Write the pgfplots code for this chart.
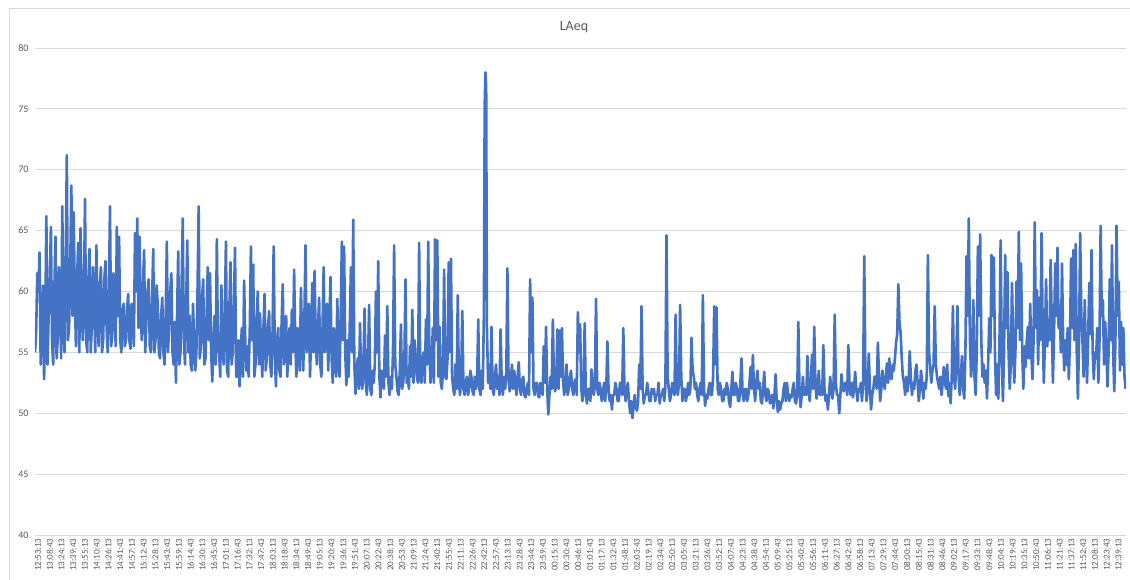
\documentclass[border=0pt]{standalone}
\usepackage{fontspec}
\setmainfont{Carlito}
\usepackage{pgfplots}
\pgfplotsset{compat=1.18}
\definecolor{exblue}{RGB}{68,114,196}
\definecolor{exgrid}{RGB}{217,217,217}
\definecolor{extext}{RGB}{89,89,89}
\pgfplotstableread{
x y
0 55.0
1.5 56.5
3 61.5
4.5 60.0
6 63.2
7.5 54.0
9 56.5
10.5 60.5
12 52.8
13.5 57.0
15 66.2
16.5 54.0
18 58.0
19.5 61.0
21 65.3
22.5 56.0
24 54.0
25.5 60.0
27 64.5
28.5 54.5
30 56.0
31.5 62.0
33 60.5
34.5 54.5
36 67.0
37.5 58.0
39 55.0
40.5 62.0
42 71.2
43.5 56.0
45 57.0
46.5 62.0
48 68.7
49.5 58.0
51 66.5
52.5 60.0
54 55.5
55.5 61.0
57 64.0
58.5 55.0
60 65.2
61.5 60.0
63 56.0
64.5 59.0
66 67.6
67.5 56.0
69 55.0
70.5 61.0
72 63.5
73.5 55.0
75 57.0
76.5 62.0
78 60.0
79.5 55.0
81 63.8
82.5 58.0
84 55.5
85.5 60.5
87 62.0
88.5 55.0
90 56.0
91.5 61.0
93 62.5
94.5 57.0
96 55.0
97.5 60.0
99 67.0
100.5 55.5
102 56.5
103.5 61.5
105 59.0
106.5 55.5
108 65.3
109.5 58.0
111 64.5
112.5 56.0
114 55.0
115.5 58.5
117 59.0
118.5 55.5
120 56.0
121.5 58.5
123 59.8
124.5 56.0
126 55.3
127.5 59.0
129 58.5
130.5 55.5
132 64.8
133.5 60.0
135 66.0
136.5 57.0
138 64.5
139.5 58.0
141 56.0
142.5 60.5
144 63.4
145.5 55.0
147 57.5
148.5 60.0
150 61.0
151.5 55.5
153 55.0
154.5 59.0
156 63.5
157.5 55.0
159 56.0
160.5 60.5
162 59.0
163.5 55.0
165 54.5
166.5 58.0
168 59.5
169.5 55.0
171 54.0
172.5 58.0
174 64.1
175.5 55.0
177 57.0
178.5 60.0
180 61.5
181.5 55.0
183 54.0
184.5 57.5
186 52.5
187.5 58.0
189 63.3
190.5 54.0
192 55.0
193.5 60.5
195 66.0
196.5 56.0
198 54.0
199.5 59.0
201 64.2
202.5 55.0
204 58.0
205.5 54.0
207 53.5
208.5 59.0
210 56.0
211.5 53.5
213 55.0
214.5 60.0
216 67.0
217.5 54.5
219 55.5
220.5 59.5
222 61.0
223.5 54.0
225 54.5
226.5 58.0
228 62.0
229.5 56.0
231 61.5
232.5 55.0
234 52.6
235.5 56.0
237 58.0
238.5 54.0
240 64.3
241.5 55.0
243 55.0
244.5 53.0
246 60.5
247.5 56.0
249 54.0
250.5 58.0
252 64.1
253.5 53.5
255 53.0
256.5 58.5
258 62.4
259.5 54.0
261 55.0
262.5 59.0
264 63.6
265.5 53.0
267 53.0
268.5 56.0
270 52.2
271.5 55.0
273 57.0
274.5 53.0
276 60.9
277.5 56.0
279 53.5
280.5 55.5
282 53.0
283.5 57.0
285 63.7
286.5 56.0
288 62.2
289.5 53.0
291 54.0
292.5 57.5
294 60.0
295.5 54.0
297 58.2
298.5 55.0
300 53.0
301.5 57.0
303 59.8
304.5 53.5
306 54.5
307.5 57.0
309 58.4
310.5 54.0
312 53.0
313.5 56.5
315 63.7
316.5 55.0
318 52.2
319.5 56.0
321 57.0
322.5 53.5
324 53.0
325.5 57.5
327 60.6
328.5 54.0
330 56.5
331.5 58.0
333 53.0
334.5 56.0
336 57.0
337.5 54.0
339 58.5
340.5 55.0
342 61.8
343.5 56.0
345 53.0
346.5 57.0
348 55.0
349.5 53.5
351 60.3
352.5 56.0
354 53.5
355.5 57.5
357 63.8
358.5 55.0
360 56.0
361.5 59.0
363 53.0
364.5 56.5
366 60.7
367.5 55.0
369 61.7
370.5 56.0
372 54.0
373.5 57.0
375 59.5
376.5 54.0
378 53.0
379.5 57.0
381 62.0
382.5 55.0
384 56.0
385.5 59.0
387 53.5
388.5 57.0
390 61.2
391.5 54.5
393 52.5
394.5 57.0
396 55.0
397.5 53.0
399 59.4
400.5 54.5
402 53.0
403.5 58.0
405 64.1
406.5 56.0
408 63.7
409.5 55.0
411 52.3
412.5 56.0
414 53.0
415.5 57.5
417 62.0
418.5 55.0
420 65.9
421.5 54.0
423 51.6
424.5 53.5
426 54.5
427.5 52.0
429 57.4
430.5 53.0
432 52.0
433.5 54.0
435 58.6
436.5 52.5
438 51.5
439.5 54.0
441 58.9
442.5 52.0
444 51.5
445.5 53.5
447 52.5
448.5 54.0
450 60.0
451.5 55.0
453 62.5
454.5 53.0
456 51.3
457.5 53.5
459 53.0
460.5 52.0
462 56.4
463.5 53.0
465 58.8
466.5 52.5
468 51.5
469.5 53.0
471 52.0
472.5 55.0
474 63.8
475.5 54.0
477 53.0
478.5 51.8
480 51.5
481.5 53.5
483 57.3
484.5 52.0
486 52.5
487.5 54.0
489 61.0
490.5 52.5
492 53.0
493.5 52.0
495 55.5
496.5 53.0
498 58.5
499.5 52.5
501 56.0
502.5 54.0
504 53.0
505.5 52.5
507 64.0
508.5 53.0
510 52.5
511.5 54.5
513 55.0
514.5 52.5
516 57.7
517.5 54.0
519 64.1
520.5 55.0
522 52.5
523.5 53.5
525 57.0
526.5 52.5
528 64.3
529.5 56.0
531 64.2
532.5 53.0
534 57.1
535.5 52.5
537 52.0
538.5 53.5
540 61.8
541.5 53.0
543 52.8
544.5 54.5
546 62.4
547.5 55.0
549 62.7
550.5 53.0
552 52.0
553.5 51.5
555 54.0
556.5 52.0
558 59.7
559.5 52.5
561 51.5
562.5 53.0
564 58.4
565.5 52.0
567 51.5
568.5 52.5
570 53.0
571.5 51.5
573 52.0
574.5 53.5
576 53.0
577.5 51.8
579 51.5
580.5 53.0
582 52.0
583.5 52.5
585 57.7
586.5 52.0
588 51.5
589.5 53.5
591 52.0
592.5 58.3
593.5 75.2
594.5 78.0
595.5 76.8
596.5 57.0
598 52.5
599.5 54.0
601 52.0
602.5 57.1
604 52.0
605.5 51.5
607 53.0
608.5 54.0
610 52.0
611.5 53.0
613 51.5
614.5 56.9
616 52.5
617.5 51.5
619 53.0
620.5 52.0
622 53.0
623.5 61.9
625 53.0
626.5 51.8
628 52.5
629.5 54.0
631 52.0
632.5 53.5
634 52.5
635.5 51.5
637 53.0
638.5 54.2
640 52.0
641.5 51.5
643 52.8
644.5 53.0
646 51.5
647.5 51.3
649 52.0
650.5 52.5
652 51.5
653.5 61.0
655 55.0
656.5 59.5
658 52.0
659.5 51.5
661 52.5
662.5 52.5
664 51.5
665.5 51.3
667 52.5
668.5 52.0
670 51.5
671.5 55.5
673 52.5
674.5 57.1
676 52.0
677.5 49.9
679 51.5
680.5 53.0
682 52.0
683.5 57.7
685 52.5
686.5 51.8
688 52.5
689.5 56.9
691 52.0
692.5 56.8
694 53.0
695.5 57.0
697 52.5
698.5 51.5
700 52.5
701.5 54.0
703 51.5
704.5 52.0
706 53.0
707.5 53.5
709 52.0
710.5 51.5
712 52.5
713.5 52.8
715 51.5
716.5 58.3
718 55.0
719.5 57.3
721 52.0
722.5 51.0
724 52.0
725.5 57.4
727 51.5
728.5 50.8
730 52.0
731.5 52.0
733 51.0
734.5 53.6
736 52.0
737.5 51.5
739 52.5
740.5 59.4
742 52.0
743.5 51.5
745 52.5
746.5 52.0
748 51.0
749.5 51.5
751 52.5
752.5 51.0
754 52.0
755.5 55.9
757 52.0
758.5 51.0
760 51.5
761.5 50.3
763 51.5
764.5 51.5
766 52.5
767.5 52.0
769 51.0
770.5 51.0
772 52.5
773.5 52.5
775 51.5
776.5 57.0
778 52.0
779.5 51.0
781 52.0
782.5 52.5
784 51.0
785.5 50.0
787 51.0
788.5 49.6
790 50.5
791.5 51.5
793 50.5
794.5 50.2
796 51.0
797.5 54.0
799 52.0
800.5 58.8
802 52.0
803.5 50.8
805 51.5
806.5 51.5
808 52.5
809.5 51.8
811 51.0
812.5 51.0
814 52.0
815.5 51.6
817 52.0
818.5 51.0
820 51.5
821.5 51.5
823 52.5
824.5 50.8
826 51.5
827.5 51.5
829 52.0
830.5 51.0
832 52.0
833.5 64.6
835 53.0
836.5 52.0
838 51.0
839.5 51.5
841 52.5
842.5 52.0
844 51.5
845.5 58.1
847 52.0
848.5 51.5
850 52.5
851.5 58.9
853 53.0
854.5 51.0
856 52.0
857.5 52.0
859 51.0
860.5 51.5
862 52.5
863.5 51.5
865 52.0
866.5 56.2
868 53.5
869.5 53.0
871 52.0
872.5 52.5
874 51.5
875.5 51.0
877 52.0
878.5 52.5
880 51.5
881.5 59.7
883 52.0
884.5 50.6
886 51.5
887.5 51.2
889 52.0
890.5 52.5
892 51.5
893.5 51.5
895 53.0
896.5 58.8
898 54.0
899.5 58.7
901 52.0
902.5 51.5
904 52.5
905.5 52.0
907 51.0
908.5 51.0
910 52.0
911.5 51.5
913 52.5
914.5 52.0
916 51.0
917.5 50.5
919 52.0
920.5 53.4
922 51.5
923.5 51.5
925 52.5
926.5 52.0
928 51.0
929.5 51.0
931 52.5
932.5 54.5
934 51.5
935.5 51.0
937 52.0
938.5 52.0
940 51.0
941.5 51.5
943 52.5
944.5 53.8
946 52.0
947.5 54.8
949 52.0
950.5 51.0
952 52.5
953.5 53.5
955 52.0
956.5 52.5
958 51.0
959.5 50.8
961 52.0
962.5 53.4
964 51.5
965.5 51.0
967 52.0
968.5 51.8
970 50.8
971.5 51.2
973 51.5
974.5 50.4
976 51.5
977.5 53.2
979 51.0
980.5 50.1
982 51.0
983.5 50.3
985 50.8
986.5 51.0
988 52.0
989.5 52.5
991 51.0
992.5 52.5
994 51.5
995.5 51.0
997 51.5
998.5 51.3
1000 52.0
1001.5 52.5
1003 51.0
1004.5 50.8
1006 51.5
1007.5 57.5
1009 52.0
1010.5 50.5
1012 51.5
1013.5 53.0
1015 51.5
1016.5 52.0
1018 51.5
1019.5 54.7
1021 52.0
1022.5 51.0
1024 52.5
1025.5 54.8
1027 52.0
1028.5 57.1
1030 52.5
1031.5 51.2
1033 52.0
1034.5 53.5
1036 51.5
1037.5 52.0
1039 51.5
1040.5 55.6
1042 52.0
1043.5 51.0
1045 51.5
1046.5 50.3
1048 51.5
1049.5 53.0
1051 52.0
1052.5 51.2
1054 52.0
1055.5 58.1
1057 52.5
1058.5 51.5
1060 51.5
1061.5 50.0
1063 51.5
1064.5 53.2
1066 52.0
1067.5 51.8
1069 52.5
1070.5 52.5
1072 51.5
1073.5 55.6
1075 52.5
1076.5 51.5
1078 52.5
1079.5 51.3
1081 52.0
1082.5 53.4
1084 52.0
1085.5 51.0
1087 52.0
1088.5 51.8
1090 52.5
1091.5 51.0
1093 52.5
1094.5 62.9
1096 53.0
1097.5 51.0
1099 52.0
1100.5 54.9
1102 52.0
1103.5 50.3
1105 51.5
1106.5 52.0
1108 53.0
1109.5 53.0
1111 52.0
1112.5 55.8
1114 53.0
1115.5 51.0
1117 52.0
1118.5 53.5
1120 52.5
1121.5 52.0
1123 53.0
1124.5 54.1
1126 52.5
1127.5 54.5
1129 53.0
1130.5 52.8
1132 54.0
1133.5 53.5
1135 54.5
1136.5 55.8
1138 56.5
1139.5 60.6
1141 57.5
1142.5 56.6
1144 54.5
1145.5 53.0
1147 52.5
1148.5 51.5
1150 53.0
1151.5 51.8
1153 52.5
1154.5 55.1
1156 53.0
1157.5 51.5
1159 52.5
1160.5 52.0
1162 53.5
1163.5 54.0
1165 52.5
1166.5 51.0
1168 52.0
1169.5 53.5
1171 52.5
1172.5 51.2
1174 52.5
1175.5 52.0
1177 53.0
1178.5 63.0
1180 55.0
1181.5 53.8
1183 52.5
1184.5 53.5
1186 54.0
1187.5 58.8
1189 54.0
1190.5 53.0
1192 52.5
1193.5 52.0
1195 53.0
1196.5 51.5
1198 52.5
1199.5 53.8
1201 52.5
1202.5 52.0
1204 54.0
1205.5 51.4
1207 52.5
1208.5 50.8
1210 53.0
1211.5 58.8
1213 53.0
1214.5 52.0
1216 54.5
1217.5 58.8
1219 53.0
1220.5 51.5
1222 53.0
1223.5 54.7
1225 52.0
1226.5 51.2
1228 55.0
1229.5 62.9
1231 58.0
1232.5 66.0
1234 56.0
1235.5 53.0
1237 54.5
1238.5 59.3
1240 53.0
1241.5 51.5
1243 55.0
1244.5 63.7
1246 58.0
1247.5 64.7
1249 56.0
1250.5 53.0
1252 54.0
1253.5 52.5
1255 53.5
1256.5 51.2
1258 54.0
1259.5 57.8
1261 55.0
1262.5 63.0
1264 58.0
1265.5 62.8
1267 55.0
1268.5 51.5
1270 54.0
1271.5 51.2
1273 56.0
1274.5 64.2
1276 55.0
1277.5 51.0
1279 55.0
1280.5 63.0
1282 57.0
1283.5 61.6
1285 55.0
1286.5 52.0
1288 54.0
1289.5 60.7
1291 56.0
1292.5 52.5
1294 55.0
1295.5 60.8
1297 57.0
1298.5 64.9
1300 56.0
1301.5 62.3
1303 55.0
1304.5 52.0
1306 55.5
1307.5 53.8
1309 56.0
1310.5 57.1
1312 54.5
1313.5 59.0
1315 55.0
1316.5 52.8
1318 56.0
1319.5 65.7
1321 57.0
1322.5 60.1
1324 54.0
1325.5 59.5
1327 56.0
1328.5 64.8
1330 57.0
1331.5 52.5
1333 56.0
1334.5 61.0
1336 55.5
1337.5 57.1
1339 56.0
1340.5 62.6
1342 57.5
1343.5 52.5
1345 56.5
1346.5 62.3
1348 58.0
1349.5 63.6
1351 57.0
1352.5 58.8
1354 55.0
1355.5 62.3
1357 56.0
1358.5 53.5
1360 56.0
1361.5 54.0
1363 57.0
1364.5 52.8
1366 56.0
1367.5 62.7
1369 57.0
1370.5 63.4
1372 56.0
1373.5 63.9
1375 55.0
1376.5 51.2
1378 56.0
1379.5 64.8
1381 58.0
1382.5 56.0
1384 53.0
1385.5 59.3
1387 55.0
1388.5 52.5
1390 56.0
1391.5 60.7
1393 56.5
1394.5 63.4
1396 55.0
1397.5 52.8
1399 55.0
1400.5 54.5
1402 57.0
1403.5 52.5
1405 56.0
1406.5 65.4
1408 58.0
1409.5 59.3
1411 54.0
1412.5 57.5
1414 55.5
1415.5 52.2
1417 55.0
1418.5 61.0
1420 56.0
1421.5 63.8
1423 55.0
1424.5 51.8
1426 56.0
1427.5 65.4
1429 58.0
1430.5 60.8
1432 53.5
1433.5 57.5
1435 54.0
1436.5 57.0
1438 53.0
1439.5 52.0
}\laeqdata
\begin{document}
\begin{tikzpicture}[x=1pt,y=1pt]
\draw[exgrid, line width=0.8pt] (9,-10) rectangle (1140,572);
\node[text=extext, font=\fontsize{14}{16}\selectfont] at (574,553) {LAeq};
\begin{axis}[
 at={(35pt,45pt)}, anchor=south west,
 scale only axis, width=1091pt, height=487pt,
 xmin=0, xmax=1440, ymin=40, ymax=80,
 ytick={40,45,...,80},
 xtick={0,15.5,...,1426},
 xticklabels={12:53:13,13:08:43,13:24:13,13:39:43,13:55:13,14:10:43,14:26:13,14:41:43,14:57:13,15:12:43,15:28:13,15:43:43,15:59:13,16:14:43,16:30:13,16:45:43,17:01:13,17:16:43,17:32:13,17:47:43,18:03:13,18:18:43,18:34:13,18:49:43,19:05:13,19:20:43,19:36:13,19:51:43,20:07:13,20:22:43,20:38:13,20:53:43,21:09:13,21:24:43,21:40:13,21:55:43,22:11:13,22:26:43,22:42:13,22:57:43,23:13:13,23:28:43,23:44:13,23:59:43,00:15:13,00:30:43,00:46:13,01:01:43,01:17:13,01:32:43,01:48:13,02:03:43,02:19:13,02:34:43,02:50:13,03:05:43,03:21:13,03:36:43,03:52:13,04:07:43,04:23:13,04:38:43,04:54:13,05:09:43,05:25:13,05:40:43,05:56:13,06:11:43,06:27:13,06:42:43,06:58:13,07:13:43,07:29:13,07:44:43,08:00:13,08:15:43,08:31:13,08:46:43,09:02:13,09:17:43,09:33:13,09:48:43,10:04:13,10:19:43,10:35:13,10:50:43,11:06:13,11:21:43,11:37:13,11:52:43,12:08:13,12:23:43,12:39:13},
 axis line style={draw=none},
 major tick length=0pt,
 ymajorgrids, grid style={exgrid, line width=0.8pt},
 /pgf/number format/assume math mode=true,
 yticklabel style={font=\fontsize{10}{12}\selectfont, text=extext, xshift=-3pt},
 xticklabel style={rotate=90, anchor=east, font=\fontsize{9}{10}\selectfont, text=extext, yshift=-3pt},
]
\addplot[exblue, line width=2.6pt, line join=round] table[x=x,y=y] {\laeqdata};
\end{axis}
\pgfresetboundingbox
\path[use as bounding box] (0,0) rectangle (1130,580);
\end{tikzpicture}
\end{document}
